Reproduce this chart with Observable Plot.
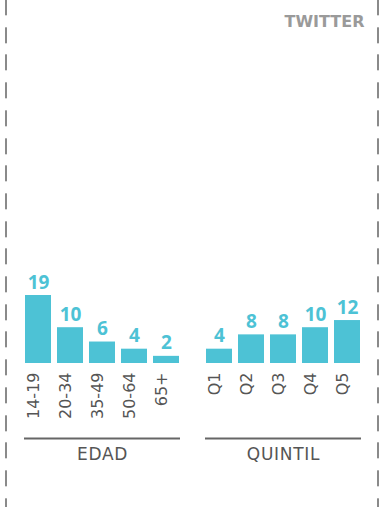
<!DOCTYPE html>
<html>
<head>
<meta charset="utf-8">
<script src="https://cdn.jsdelivr.net/npm/d3@7"></script>
<script src="https://cdn.jsdelivr.net/npm/@observablehq/plot@0.6"></script>
<style>
  html, body { margin: 0; padding: 0; background: #fff; }
  #wrap { position: relative; width: 384px; height: 507px; overflow: hidden; }
  .dash { position: absolute; top: 0; width: 2px; height: 507px;
    background: repeating-linear-gradient(to bottom, #8a8a8a 0 16px, transparent 16px 27.7px);
    background-position: 0 -0.7px; }
  g[aria-label="fx-axis tick label"] text { letter-spacing: 0.7px; }
</style>
</head>
<body>
<div id="wrap">
  <div class="dash" style="left:5px"></div>
  <div class="dash" style="left:377px"></div>
</div>
<script>
const groups = ["EDAD", "EDAD", "EDAD", "EDAD", "EDAD", "QUINTIL", "QUINTIL", "QUINTIL", "QUINTIL", "QUINTIL"];
const categories = ["14-19", "20-34", "35-49", "50-64", "65+", "Q1", "Q2", "Q3", "Q4", "Q5"];
const values = [19, 10, 6, 4, 2, 4, 8, 8, 10, 12];
const groupNames = ["EDAD", "QUINTIL"];
const title = "TWITTER";

const teal = "#4dc2d5";
const data = categories.map((c, i) => ({
  group: groups[i],
  cat: c,
  value: values[i],
  pos: groups.slice(0, i).filter(g => g === groups[i]).length
}));

const chart = Plot.plot({
  width: 384,
  height: 507,
  marginTop: 0,
  marginLeft: 24,
  marginRight: 22,
  marginBottom: 144,
  style: { fontFamily: "DejaVu Sans", background: "transparent", overflow: "visible" },
  fx: { domain: groupNames, paddingInner: 0.138, paddingOuter: 0, axis: null },
  x: { type: "band", domain: d3.range(5), paddingInner: 0.18, paddingOuter: 0, axis: null },
  y: { domain: [0, 19], range: [363, 295], axis: null },
  marks: [
    Plot.barY(data, { fx: "group", x: "pos", y: "value", fill: teal }),
    Plot.text(data, {
      fx: "group", x: "pos", y: "value", text: d => String(d.value),
      lineAnchor: "bottom", dy: -7, fill: teal, fontSize: 19, fontWeight: 700,
      fontFamily: "Open Sans"
    }),
    Plot.text(data, {
      fx: "group", x: "pos", frameAnchor: "bottom", text: "cat",
      rotate: -90, textAnchor: "end", dy: 9, fontSize: 16, fill: "#555",
      fontFamily: "DejaVu Sans"
    }),
    Plot.ruleY([0], { dy: 75, stroke: "#666", strokeWidth: 2 }),
    Plot.axisFx({
      anchor: "bottom", tickSize: 0, tickPadding: 84, label: null,
      fontSize: 17, fill: "#555", fontFamily: "DejaVu Sans"
    }),
    Plot.text([title], {
      fx: [groupNames[1]], frameAnchor: "top-right", text: d => d,
      lineAnchor: "top", dx: 3, dy: 15, fontSize: 16, fontWeight: 700,
      fill: "#9a9a9a", fontFamily: "DejaVu Sans"
    })
  ]
});
document.getElementById("wrap").appendChild(chart);
chart.style.position = "absolute";
chart.style.left = "0";
chart.style.top = "0";
</script>
</body>
</html>
